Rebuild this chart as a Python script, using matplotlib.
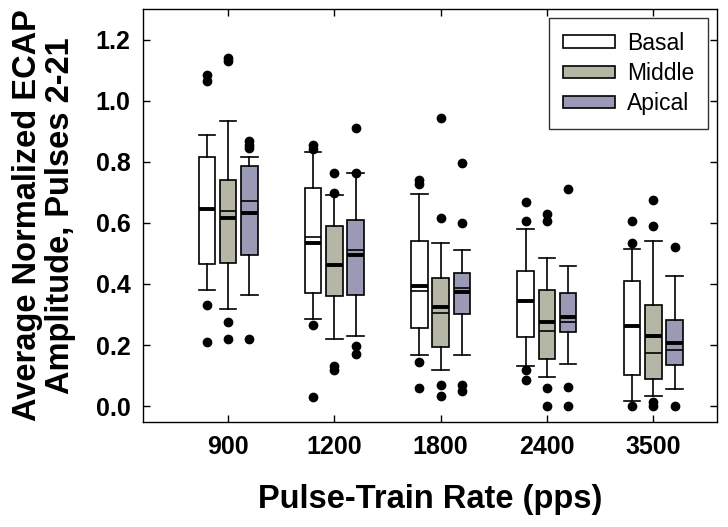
import matplotlib.pyplot as plt
from matplotlib.patches import Patch
import numpy as np

plt.rcParams['font.family'] = ['Liberation Sans', 'DejaVu Sans']

rates = ['900', '1200', '1800', '2400', '3500']
regions = ['Basal', 'Middle', 'Apical']
colors = ['white', '#b6b6a6', '#9a9ab6']

# per region: one value per rate (10th pct, 25th, median, mean, 75th, 90th)
whislo = {'Basal':  [0.381, 0.284, 0.166, 0.132, 0.017],
          'Middle': [0.317, 0.220, 0.119, 0.096, 0.034],
          'Apical': [0.363, 0.231, 0.168, 0.138, 0.056]}
q1 = {'Basal':  [0.464, 0.370, 0.257, 0.227, 0.102],
      'Middle': [0.468, 0.361, 0.192, 0.153, 0.090],
      'Apical': [0.495, 0.365, 0.301, 0.242, 0.134]}
med = {'Basal':  [0.644, 0.555, 0.377, 0.344, 0.263],
       'Middle': [0.638, 0.461, 0.306, 0.246, 0.174],
       'Apical': [0.670, 0.512, 0.387, 0.277, 0.183]}
mean = {'Basal':  [0.644, 0.533, 0.393, 0.344, 0.263],
        'Middle': [0.615, 0.461, 0.326, 0.274, 0.230],
        'Apical': [0.633, 0.496, 0.372, 0.293, 0.208]}
q3 = {'Basal':  [0.816, 0.715, 0.539, 0.442, 0.408],
      'Middle': [0.739, 0.591, 0.420, 0.379, 0.331],
      'Apical': [0.785, 0.610, 0.437, 0.369, 0.283]}
whishi = {'Basal':  [0.886, 0.833, 0.695, 0.579, 0.513],
          'Middle': [0.932, 0.690, 0.533, 0.486, 0.541],
          'Apical': [0.816, 0.762, 0.512, 0.459, 0.427]}
outliers = {'Basal':  [[1.085, 1.064, 0.330, 0.211], [0.855, 0.840, 0.265, 0.030],
                       [0.739, 0.728, 0.145, 0.059], [0.669, 0.606, 0.118, 0.085],
                       [0.606, 0.534, 0.002]],
            'Middle': [[1.140, 1.130, 0.276, 0.221], [0.762, 0.699, 0.132, 0.118],
                       [0.944, 0.617, 0.069, 0.032], [0.630, 0.606, 0.059, 0.002],
                       [0.675, 0.591, 0.012, 0.002]],
            'Apical': [[0.868, 0.855, 0.846, 0.219], [0.910, 0.762, 0.197, 0.172],
                       [0.797, 0.601, 0.069, 0.050], [0.710, 0.061, 0.002],
                       [0.521, 0.002]]}

fig, ax = plt.subplots(figsize=(7.28, 5.27), dpi=100)
fig.subplots_adjust(left=0.1964, right=0.985, bottom=0.1992, top=0.983)

x = np.arange(1, len(rates) + 1)
offsets = [-0.2, 0.0, 0.2]
width = 0.155

for r, off, col in zip(regions, offsets, colors):
    stats = []
    for i in range(len(rates)):
        stats.append(dict(whislo=whislo[r][i], q1=q1[r][i], med=med[r][i], mean=mean[r][i],
                          q3=q3[r][i], whishi=whishi[r][i], fliers=outliers[r][i]))
    ax.bxp(stats, positions=x + off, widths=width, patch_artist=True,
           showmeans=True, meanline=True, manage_ticks=False,
           boxprops=dict(facecolor=col, edgecolor='black', linewidth=1.2),
           medianprops=dict(color='black', linewidth=1.2),
           meanprops=dict(color='black', linewidth=2.8, linestyle='-'),
           whiskerprops=dict(color='black', linewidth=1.2),
           capprops=dict(color='black', linewidth=1.2), capwidths=width,
           flierprops=dict(marker='o', markerfacecolor='black', markeredgecolor='black',
                           markersize=6, linestyle='none'))

ax.set_xlim(0.2, 5.6)
ax.set_ylim(-0.052, 1.3)
ax.set_xticks(x)
ax.set_xticklabels(rates)
ax.set_yticks(np.arange(0, 1.21, 0.2))
ax.set_yticklabels([f'{v:.1f}' for v in np.arange(0, 1.21, 0.2)])
ax.tick_params(direction='in', top=True, right=True, length=5, width=1, labelsize=18, pad=9)
for lab in ax.get_xticklabels() + ax.get_yticklabels():
    lab.set_fontweight('bold')
for s in ax.spines.values():
    s.set_linewidth(1)

ax.set_xlabel('Pulse-Train Rate (pps)', fontsize=23.5, fontweight='bold', labelpad=18)
ax.set_ylabel('Average Normalized ECAP\nAmplitude, Pulses 2-21', fontsize=23.5,
              fontweight='bold', labelpad=14, linespacing=1.1)

handles = [Patch(facecolor=c, edgecolor='black', linewidth=1.2) for c in colors]
leg = ax.legend(handles, regions, loc='upper right', bbox_to_anchor=(0.984, 0.978),
                fontsize=16.5, frameon=True, fancybox=False, edgecolor='black',
                handlelength=2.3, handleheight=0.45, labelspacing=0.32,
                borderpad=0.6, handletextpad=0.5, borderaxespad=0)
leg.get_frame().set_linewidth(1)

fig.savefig('out.png', dpi=100)
